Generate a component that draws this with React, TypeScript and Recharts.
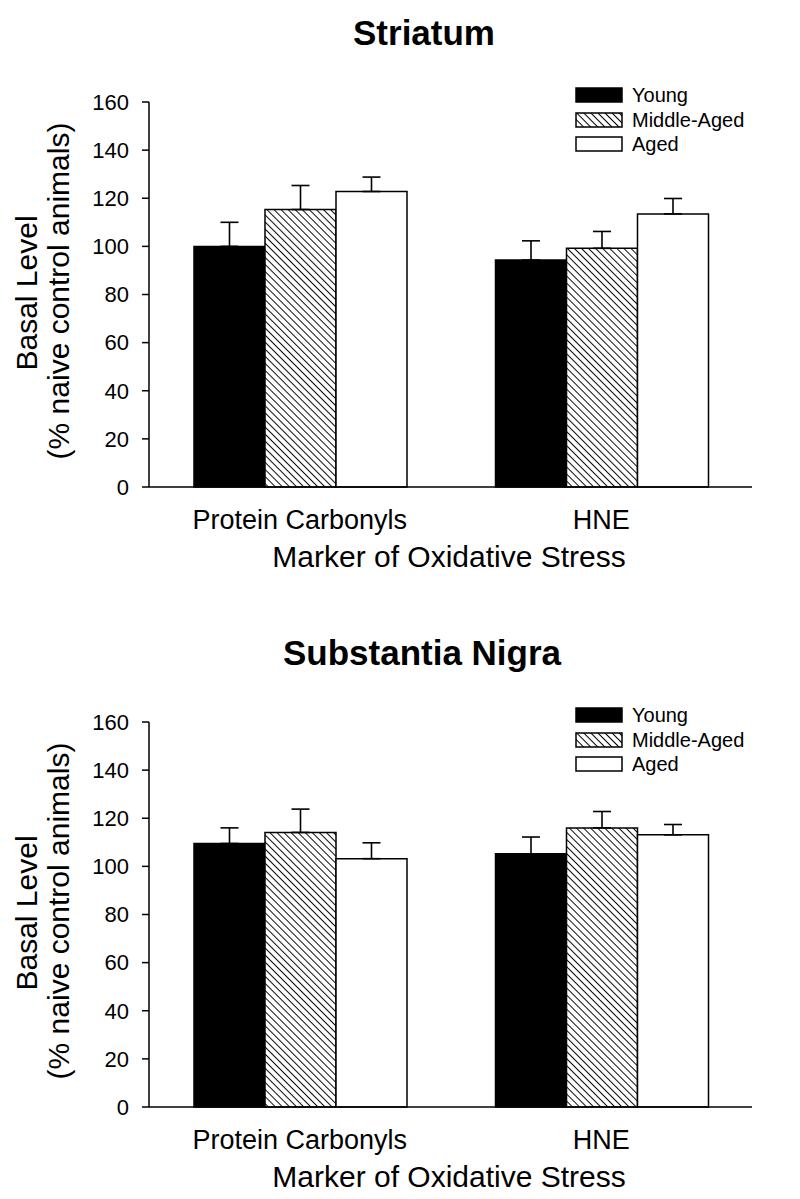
import React from 'react';
import { BarChart, Bar, XAxis, YAxis, ErrorBar, Legend } from 'recharts';

const categories = ['Protein Carbonyls', 'HNE'];
const seriesNames = ['Young', 'Middle-Aged', 'Aged'];
const yTicks = [0, 20, 40, 60, 80, 100, 120, 140, 160];

// Striatum
const striatumYoung = [100, 94.3];
const striatumYoungErr = [10, 8];
const striatumMiddle = [115.3, 99.2];
const striatumMiddleErr = [10, 7];
const striatumAged = [122.8, 113.5];
const striatumAgedErr = [6, 6.4];

// Substantia Nigra
const nigraYoung = [109.5, 105.2];
const nigraYoungErr = [6.5, 7];
const nigraMiddle = [114.1, 116];
const nigraMiddleErr = [9.7, 6.8];
const nigraAged = [103.2, 113.1];
const nigraAgedErr = [6.6, 4.3];

const FONT = '"Liberation Sans", Arial, sans-serif';

const buildData = (
  young: number[], youngErr: number[],
  middle: number[], middleErr: number[],
  aged: number[], agedErr: number[],
) =>
  categories.map((name, i) => ({
    name,
    young: young[i],
    youngErr: [0, youngErr[i]],
    middle: middle[i],
    middleErr: [0, middleErr[i]],
    aged: aged[i],
    agedErr: [0, agedErr[i]],
  }));

const striatumData = buildData(striatumYoung, striatumYoungErr, striatumMiddle, striatumMiddleErr, striatumAged, striatumAgedErr);
const nigraData = buildData(nigraYoung, nigraYoungErr, nigraMiddle, nigraMiddleErr, nigraAged, nigraAgedErr);

const HatchLegend = ({ id }: { id: string }) => (
  <div style={{ fontFamily: FONT, fontSize: 20, color: '#000' }}>
    {seriesNames.map((s, i) => (
      <div key={s} style={{ display: 'flex', alignItems: 'center', height: 24.5 }}>
        <svg width={48} height={16}>
          <defs>
            <pattern id={`${id}-lg`} width="5" height="5" patternUnits="userSpaceOnUse" patternTransform="rotate(-45)">
              <rect width="5" height="5" fill="#fff" />
              <line x1="0" y1="0" x2="0" y2="5" stroke="#000" strokeWidth="2" />
            </pattern>
          </defs>
          <rect
            x={1} y={1} width={46} height={14}
            fill={i === 0 ? '#000' : i === 1 ? `url(#${id}-lg)` : '#fff'}
            stroke="#000" strokeWidth={1.5}
          />
        </svg>
        <span style={{ marginLeft: 9, lineHeight: 1 }}>{s}</span>
      </div>
    ))}
  </div>
);

const Panel = ({ id, title, titleX, data }: { id: string; title: string; titleX: number; data: any[] }) => (
  <div style={{ position: 'relative', width: 800, height: 600 }}>
    <BarChart
      width={800}
      height={600}
      data={data}
      margin={{ top: 102, right: 48, left: 0, bottom: 0 }}
      barCategoryGap={45}
      barGap={0}
    >
      <defs>
        <pattern id={`${id}-hatch`} width="5" height="5" patternUnits="userSpaceOnUse" patternTransform="rotate(-45)">
          <rect width="5" height="5" fill="#fff" />
          <line x1="0" y1="0" x2="0" y2="5" stroke="#000" strokeWidth="1.9" />
        </pattern>
      </defs>
      <XAxis
        dataKey="name"
        height={113}
        tickLine={false}
        tickSize={0}
        tickMargin={23}
        axisLine={{ stroke: '#000', strokeWidth: 1.5 }}
        tick={{ fill: '#000', fontSize: 27, fontFamily: FONT }}
      />
      <YAxis
        width={149}
        domain={[0, 160]}
        ticks={yTicks}
        interval={0}
        tickSize={7}
        tickMargin={13}
        axisLine={{ stroke: '#000', strokeWidth: 1.5 }}
        tickLine={{ stroke: '#000', strokeWidth: 1.5 }}
        tick={{ fill: '#000', fontSize: 22, fontFamily: FONT }}
      />
      <Legend
        layout="vertical"
        align="center"
        verticalAlign="middle"
        wrapperStyle={{ left: 575, top: 83, width: 200 }}
        content={() => <HatchLegend id={id} />}
      />
      <Bar dataKey="young" name="Young" fill="#000" stroke="#000" strokeWidth={1.5} isAnimationActive={false}>
        <ErrorBar dataKey="youngErr" direction="y" width={9} stroke="#000" strokeWidth={1.6} isAnimationActive={false} />
      </Bar>
      <Bar dataKey="middle" name="Middle-Aged" fill={`url(#${id}-hatch)`} stroke="#000" strokeWidth={1.5} isAnimationActive={false}>
        <ErrorBar dataKey="middleErr" direction="y" width={9} stroke="#000" strokeWidth={1.6} isAnimationActive={false} />
      </Bar>
      <Bar dataKey="aged" name="Aged" fill="#fff" stroke="#000" strokeWidth={1.5} isAnimationActive={false}>
        <ErrorBar dataKey="agedErr" direction="y" width={9} stroke="#000" strokeWidth={1.6} isAnimationActive={false} />
      </Bar>
    </BarChart>
    <svg
      width={800}
      height={600}
      style={{ position: 'absolute', left: 0, top: 0, pointerEvents: 'none' }}
      fontFamily={FONT}
    >
      <text x={titleX} y={45} textAnchor="middle" fontSize={35} fontWeight="bold" fill="#000">{title}</text>
      <text transform="translate(37,293) rotate(-90)" textAnchor="middle" fontSize={30} fill="#000">Basal Level</text>
      <text transform="translate(69,291) rotate(-90)" textAnchor="middle" fontSize={30} fill="#000">(% naive control animals)</text>
      <text x={449} y={567} textAnchor="middle" fontSize={30} fill="#000">Marker of Oxidative Stress</text>
    </svg>
  </div>
);

export default function App() {
  return (
    <div style={{ position: 'absolute', left: 0, top: 0, width: 800, height: 1199, background: '#fff' }}>
      <div style={{ position: 'absolute', left: 0, top: 0 }}>
        <Panel id="str" title="Striatum" titleX={424} data={striatumData} />
      </div>
      <div style={{ position: 'absolute', left: 0, top: 620 }}>
        <Panel id="sn" title="Substantia Nigra" titleX={422} data={nigraData} />
      </div>
    </div>
  );
}
